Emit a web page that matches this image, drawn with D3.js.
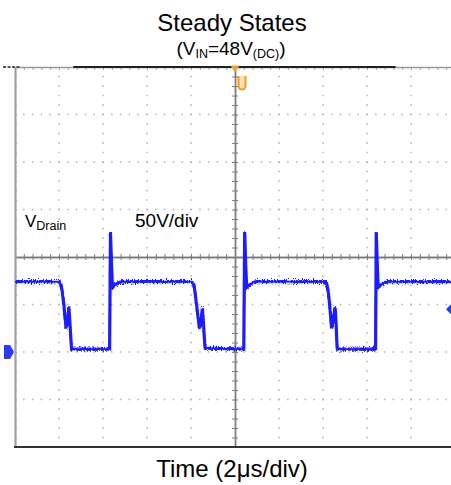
<!DOCTYPE html>
<html>
<head>
<meta charset="utf-8">
<script src="https://cdn.jsdelivr.net/npm/d3@7"></script>
<style>
  body { margin: 0; background: #fff; }
  text { font-family: "Liberation Sans", Arial, sans-serif; fill: #000; }
</style>
</head>
<body>
<div class="chart"></div>
<script>
var svgWidth = 451;
var svgHeight = 485;

// trace: time in us (0 = centre), drain voltage in V
var traceTime = [-10, -8.00, -7.93, -7.86, -7.78, -7.68, -7.64, -7.55, -7.51, -7.45, -7.42,
  -5.70, -5.66, -5.61, -5.57, -5.48, -5.30, -5.12,
  -1.97, -1.90, -1.83, -1.75, -1.62, -1.57, -1.48, -1.44, -1.38, -1.36,
  0.40, 0.44, 0.49, 0.53, 0.62, 0.80, 0.98,
  4.09, 4.16, 4.23, 4.30, 4.39, 4.43, 4.55, 4.59, 4.63, 4.65,
  6.39, 6.42, 6.47, 6.51, 6.60, 6.78, 6.96, 10];
var traceVolt = [74, 74, 72, 65, 50, 25, 28, 47, 33, 10, 3,
  3, 126, 90, 68, 70, 73, 74,
  74, 72, 65, 50, 25, 28, 46, 33, 10, 4,
  3, 126, 90, 68, 70, 73, 74,
  74, 72, 65, 50, 25, 28, 47, 33, 10, 3,
  3, 126, 90, 68, 70, 73, 74, 74];

var timeDomain = [-10, 10];     // 10 div x 2us
var voltDomain = [-100, 300];   // 8 div x 50V
var majorTime = d3.range(-10, 10.001, 2);
var minorTime = d3.range(-10, 10.001, 0.4);
var majorVolt = d3.range(-100, 300.001, 50);
var minorVolt = d3.range(-100, 300.001, 10);
var centreTime = 0;
var centreVolt = 100;
var groundVolt = 0;
var triggerVolt = 45;

var titleText = "Steady States";
var xLabelText = "Time (2\u03bcs/div)";
var scaleText = "50V/div";

var svg = d3.select(".chart")
  .append("svg")
  .attr("width", svgWidth)
  .attr("height", svgHeight);

var x = d3.scaleLinear().domain(timeDomain).range([15, 455]);
var y = d3.scaleLinear().domain(voltDomain).range([447, 67]);

// noise filter so the flat parts of the trace look like a real scope trace
var defs = svg.append("defs");
var f = defs.append("filter").attr("id", "noise")
  .attr("x", "-2%").attr("y", "-10%").attr("width", "104%").attr("height", "120%");
f.append("feTurbulence").attr("type", "fractalNoise").attr("baseFrequency", "0.9 0.5")
  .attr("numOctaves", 2).attr("seed", 4).attr("result", "t");
f.append("feColorMatrix").attr("in", "t").attr("type", "matrix")
  .attr("values", "0 0 0 0 0.5  1 0 0 0 0  0 0 0 0 0  0 0 0 0 1").attr("result", "m");
f.append("feDisplacementMap").attr("in", "SourceGraphic").attr("in2", "m")
  .attr("scale", 7).attr("xChannelSelector", "R").attr("yChannelSelector", "G");

var plot = svg.append("g");
plot.append("clipPath").attr("id", "clip")
  .append("rect").attr("x", 0).attr("y", 60).attr("width", svgWidth).attr("height", 395);

// dotted grid
var gridTimes = majorTime.filter(d => d != centreTime && d != timeDomain[0] && d != timeDomain[1]);
var gridVolts = majorVolt.filter(d => d != centreVolt && d != voltDomain[0] && d != voltDomain[1]);
var dots = [];
gridTimes.forEach(t => minorVolt.forEach(v => dots.push([t, v])));
gridVolts.forEach(v => minorTime.forEach(t => dots.push([t, v])));
plot.selectAll("rect.dot")
  .data(dots.filter(d => d[0] > timeDomain[0] && d[1] > voltDomain[0] && d[1] < voltDomain[1]))
  .enter()
  .append("rect")
  .attr("class", "dot")
  .attr("x", d => x(d[0]) - 0.75)
  .attr("y", d => y(d[1]) - 0.75)
  .attr("width", 1.5)
  .attr("height", 1.5)
  .attr("fill", "#b0b0b0");

// centre cross with minor ticks
function styleAxis(g, color) {
  g.selectAll("text").remove();
  g.select(".domain").attr("stroke", color).attr("stroke-width", 1.4);
  g.selectAll(".tick line").attr("stroke", color).attr("stroke-width", 1);
}
[d3.axisTop, d3.axisBottom].forEach(function (ax) {
  plot.append("g")
    .attr("transform", `translate(0, ${y(centreVolt)})`)
    .call(ax(x).tickValues(minorTime).tickSize(3).tickSizeOuter(0))
    .call(g => styleAxis(g, "#7a7a7a"));
});
[d3.axisLeft, d3.axisRight].forEach(function (ax) {
  plot.append("g")
    .attr("transform", `translate(${x(centreTime)}, 0)`)
    .call(ax(y).tickValues(minorVolt).tickSize(3).tickSizeOuter(0))
    .call(g => styleAxis(g, "#7a7a7a"));
});

// frame
plot.append("g")
  .attr("transform", `translate(0, ${y(voltDomain[1])})`)
  .call(d3.axisBottom(x).tickValues(minorTime).tickSize(3).tickSizeOuter(0))
  .call(g => styleAxis(g, "#9a9a9a"));
plot.append("g")
  .attr("transform", `translate(${x(timeDomain[0])}, 0)`)
  .call(d3.axisRight(y).tickValues(minorVolt).tickSize(2).tickSizeOuter(0))
  .call(g => styleAxis(g, "#a0a0a0"))
  .select(".domain").attr("stroke-width", 2.2);
plot.append("line")
  .attr("x1", x(timeDomain[0]) - 1).attr("x2", svgWidth)
  .attr("y1", y(voltDomain[0])).attr("y2", y(voltDomain[0]))
  .attr("stroke", "#333").attr("stroke-width", 1.8);

// record bar on top edge
plot.append("line")
  .attr("x1", x(-7.35)).attr("x2", x(7.3))
  .attr("y1", y(voltDomain[1])).attr("y2", y(voltDomain[1]))
  .attr("stroke", "#222").attr("stroke-width", 2);
plot.append("line")
  .attr("x1", 3).attr("x2", 20)
  .attr("y1", y(voltDomain[1])).attr("y2", y(voltDomain[1]))
  .attr("stroke", "#555").attr("stroke-width", 2).attr("stroke-dasharray", "3,1.5");

// trace
var traceData = traceTime.map((t, i) => [t, traceVolt[i]]);
var line = d3.line().x(d => x(d[0])).y(d => y(d[1]));
var traceG = plot.append("g").attr("clip-path", "url(#clip)");
traceG.append("path")
  .datum(traceData)
  .attr("d", line)
  .attr("fill", "none")
  .attr("stroke", "#1c1cff")
  .attr("stroke-width", 1.8);
traceG.append("path")
  .datum(traceData)
  .attr("d", line)
  .attr("fill", "none")
  .attr("stroke", "#1c1cff")
  .attr("stroke-width", 3.2)
  .attr("filter", "url(#noise)");

// markers
plot.append("path")
  .attr("d", d3.symbol(d3.symbolTriangle, 34)())
  .attr("transform", `translate(${x(centreTime)}, ${y(voltDomain[1]) + 1}) rotate(180)`)
  .attr("fill", "#f0a030");
plot.append("path")
  .attr("d", "M-3.5,-6 v9 q0,4.5 3.5,4.5 q3.5,0 3.5,-4.5 v-9")
  .attr("transform", `translate(${x(centreTime) + 7}, ${y(voltDomain[1]) + 15})`)
  .attr("fill", "#fde2b8")
  .attr("stroke", "#f29a26")
  .attr("stroke-width", 2);
plot.append("path")
  .attr("d", "M4,-7 h6 l4,7 l-4,7 h-6 z")
  .attr("transform", `translate(0, ${y(groundVolt)})`)
  .attr("fill", "#2a3cf2");
plot.append("path")
  .attr("d", "M0,0 l5,-5 v10 z")
  .attr("transform", `translate(${svgWidth - 5}, ${y(triggerVolt)})`)
  .attr("fill", "#2a3cf2");

// texts
svg.append("text")
  .attr("x", 232).attr("y", 31)
  .attr("text-anchor", "middle")
  .style("font-size", "24px")
  .text(titleText);

var sub = svg.append("text")
  .attr("x", 231).attr("y", 55)
  .attr("text-anchor", "middle")
  .style("font-size", "19px");
sub.append("tspan").text("(V");
sub.append("tspan").attr("dy", 3).style("font-size", "12.5px").text("IN");
sub.append("tspan").attr("dy", -3).text("=48V");
sub.append("tspan").attr("dy", 3).style("font-size", "12.5px").text("(DC)");
sub.append("tspan").attr("dy", -3).text(")");

var vd = svg.append("text")
  .attr("x", 25).attr("y", 227)
  .style("font-size", "17px");
vd.append("tspan").text("V");
vd.append("tspan").attr("dy", 3).style("font-size", "12.5px").text("Drain");

svg.append("text")
  .attr("x", 135).attr("y", 227)
  .style("font-size", "19px")
  .text(scaleText);

svg.append("text")
  .attr("x", 232).attr("y", 477)
  .attr("text-anchor", "middle")
  .style("font-size", "24px")
  .text(xLabelText);
</script>
</body>
</html>
